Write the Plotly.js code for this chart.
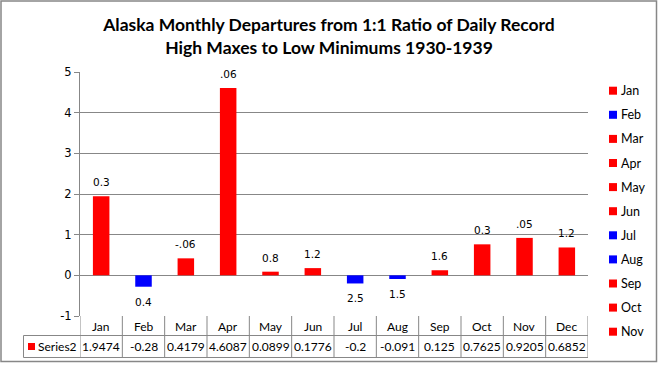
<!DOCTYPE html>
<html><head><meta charset="utf-8">
<script src="https://cdn.plot.ly/plotly-3.0.1.min.js"></script>
<style>html,body{margin:0;padding:0;background:#fff;}#c{width:658px;height:365px;}</style>
</head><body><div id="c"></div>
<script>
const months = ['Jan','Feb','Mar','Apr','May','Jun','Jul','Aug','Sep','Oct','Nov','Dec'];
const values = [1.9474,-0.28,0.4179,4.6087,0.0899,0.1776,-0.2,-0.091,0.125,0.7625,0.9205,0.6852];
const barLabels = ['0.3','0.4','-.06','.06','0.8','1.2','2.5','1.5','1.6','0.3','.05','1.2'];
const tableValues = ['1.9474','-0.28','0.4179','4.6087','0.0899','0.1776','-0.2','-0.091','0.125','0.7625','0.9205','0.6852'];
const yTickVals = [-1, 0, 1, 2, 3, 4, 5];
const yTickText = ['-1', '0', '1', '2', '3', '4', '5'];
const legendMonths = months.slice(0, 11);
const seriesName = 'Series2';

const RED = '#ff0000', BLUE = '#0000ff', GRID = '#878787';
const colors = values.map(v => v < 0 ? BLUE : RED);

// plot area geometry (px)
const L = 80, R = 588, T = 72, B = 316, W = 658, H = 365;
const pw = R - L, ph = B - T;
const px = x => (x - L) / pw;
const py = y => (B - y) / ph;

const traces = [{
  type: 'bar', x: months, y: values, width: 0.39,
  marker: {color: colors}, showlegend: false, hoverinfo: 'x+y'
}];

const annotations = [];
const shapes = [];
months.forEach((m, i) => {
  annotations.push({
    x: m, y: values[i], xref: 'x', yref: 'y', text: barLabels[i], showarrow: false,
    yanchor: 'middle', yshift: values[i] >= 0 ? 14 : -15,
    font: {family: 'DejaVu Sans', size: 10.5, color: '#000'}
  });
  annotations.push({
    x: m, y: py(326.5), xref: 'x', yref: 'paper', text: m, showarrow: false,
    yanchor: 'middle', font: {family: 'Lato', size: 12, color: '#000'}
  });
  annotations.push({
    x: m, y: py(346.5), xref: 'x', yref: 'paper', text: tableValues[i], showarrow: false,
    yanchor: 'middle', font: {family: 'Lato', size: 12, color: '#000'}
  });
});
annotations.push({
  x: px(36), y: py(346.5), xref: 'paper', yref: 'paper', text: seriesName, showarrow: false,
  xanchor: 'left', yanchor: 'middle', font: {family: 'Lato', size: 12, color: '#000'}
});

// legend (vary colours by point), drawn as keys + labels
legendMonths.forEach((m, i) => {
  const cy = 90.7 + i * 24.1;
  shapes.push({type: 'rect', xref: 'paper', yref: 'paper', x0: px(609), x1: px(617),
    y0: py(cy + 4), y1: py(cy - 4), line: {width: 0}, fillcolor: colors[i]});
  annotations.push({x: px(619), y: py(cy), xref: 'paper', yref: 'paper', text: m, showarrow: false,
    xanchor: 'left', yanchor: 'middle', font: {family: 'Lato', size: 12.5, color: '#000'}});
});

const ln = {color: GRID, width: 1};
for (let i = 0; i <= months.length; i++) {
  shapes.push({type: 'line', xref: 'x', yref: 'paper', x0: i - 0.5, x1: i - 0.5, y0: 0, y1: py(357.5), line: ln});
}
shapes.push({type: 'line', xref: 'paper', yref: 'paper', x0: px(23.5), x1: 1, y0: py(335.5), y1: py(335.5), line: ln});
shapes.push({type: 'line', xref: 'paper', yref: 'paper', x0: px(23.5), x1: 1, y0: py(357.5), y1: py(357.5), line: ln});
shapes.push({type: 'line', xref: 'paper', yref: 'paper', x0: px(23.5), x1: px(23.5), y0: py(335.5), y1: py(357.5), line: ln});
shapes.push({type: 'rect', xref: 'paper', yref: 'paper', x0: px(28), x1: px(35), y0: py(343), y1: py(350), line: {width: 0}, fillcolor: RED});
// outer chart border
shapes.push({type: 'rect', xref: 'paper', yref: 'paper', x0: px(1), x1: px(656.5), y0: py(361.5), y1: py(1), line: {color: GRID, width: 1.5}});

const layout = {
  width: W, height: H,
  margin: {l: L, r: W - R, t: T, b: H - B, pad: 0},
  paper_bgcolor: '#fff', plot_bgcolor: '#fff',
  title: {
    text: 'Alaska Monthly Departures from 1:1 Ratio of Daily Record<br>High Maxes to Low Minimums 1930-1939',
    font: {family: 'Lato', size: 17.5, color: '#000', weight: 'bold'},
    x: 0.5, xanchor: 'center', y: 1 - 31 / H, yanchor: 'middle'
  },
  xaxis: {
    type: 'category', range: [-0.5, 11.5], showticklabels: false, showgrid: false,
    zeroline: false, showline: false, ticks: '', fixedrange: true
  },
  yaxis: {
    range: [-1, 5], tickmode: 'array', tickvals: yTickVals, ticktext: yTickText,
    showgrid: true, gridcolor: GRID, gridwidth: 1,
    zeroline: true, zerolinecolor: GRID, zerolinewidth: 1,
    showline: true, linecolor: GRID, linewidth: 1,
    ticks: 'outside', ticklen: 5, tickcolor: GRID,
    tickfont: {family: 'DejaVu Sans', size: 11.5, color: '#000'}, fixedrange: true
  },
  showlegend: false,
  annotations: annotations,
  shapes: shapes,
  bargap: 0.6
};

Plotly.newPlot('c', traces, layout, {displayModeBar: false, staticPlot: true});
</script></body></html>
